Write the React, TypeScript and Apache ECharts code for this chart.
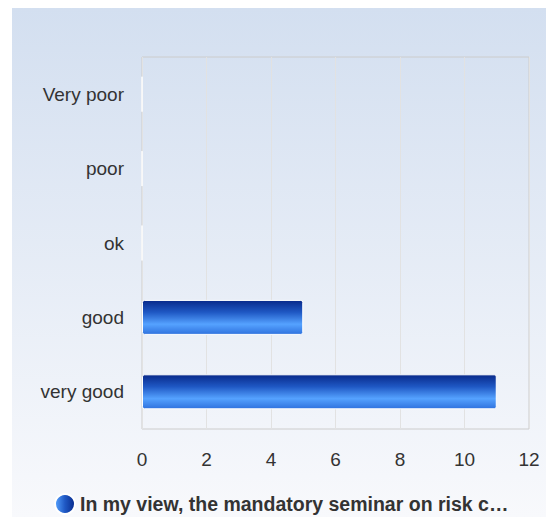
import React, { useEffect, useRef } from "react";
import * as echarts from "echarts";

const categories = ["very good", "good", "ok", "poor", "Very poor"];
const values = [11, 5, 0, 0, 0];
const seriesName = "In my view, the mandatory seminar on risk c…";

export default function App() {
  const ref = useRef<HTMLDivElement>(null);
  useEffect(() => {
    document.body.style.margin = "0";
    const chart = echarts.init(ref.current!, null, { renderer: "svg" });
    const barColor = new echarts.graphic.LinearGradient(0, 0, 0, 1, [
      { offset: 0, color: "#08298a" },
      { offset: 0.35, color: "#1f58c4" },
      { offset: 0.7, color: "#55a2ff" },
      { offset: 1, color: "#2f72de" },
    ]);
    chart.setOption({
      animation: false,
      graphic: [
        {
          type: "rect",
          z: -10,
          silent: true,
          shape: { x: 12, y: 8, width: 534, height: 509 },
          style: {
            fill: new echarts.graphic.LinearGradient(0, 0, 0, 1, [
              { offset: 0, color: "#d3dff0" },
              { offset: 1, color: "#f8f9fc" },
            ]),
          },
        },
      ],
      grid: { left: 142, right: 17, top: 57, bottom: 88, show: true, borderColor: "#cccccc", borderWidth: 1, backgroundColor: "transparent" },
      xAxis: {
        type: "value",
        min: 0,
        max: 12,
        interval: 2,
        axisLine: { show: false },
        axisTick: { show: false },
        splitLine: { show: true, lineStyle: { color: "#e2e2e2", width: 1 } },
        axisLabel: { color: "#333333", fontSize: 19, fontFamily: "Liberation Sans, Arial, sans-serif", margin: 21 },
      },
      yAxis: {
        type: "category",
        data: categories,
        axisLine: { show: false },
        axisTick: { show: false },
        splitLine: { show: false },
        axisLabel: { color: "#333333", fontSize: 19, fontFamily: "Liberation Sans, Arial, sans-serif", margin: 18 },
      },
      legend: {
        bottom: -3,
        left: 49,
        itemWidth: 20,
        itemHeight: 20,
        icon: "circle",
        itemGap: 6,
        textStyle: { color: "#333333", fontSize: 19.5, fontWeight: "bold", fontFamily: "Liberation Sans, Arial, sans-serif" },
        data: [
          {
            name: seriesName,
            itemStyle: {
              color: new echarts.graphic.LinearGradient(0, 0, 1, 0, [
                { offset: 0, color: "#55a2ff" },
                { offset: 0.5, color: "#1f58c4" },
                { offset: 1, color: "#08298a" },
              ]),
            },
          },
        ],
      },
      series: [
        {
          name: seriesName,
          type: "bar",
          data: values,
          barWidth: "47%",
          itemStyle: { color: barColor, borderColor: "#ffffff", borderWidth: 1, borderRadius: 2 },
        },
      ],
    });
    return () => chart.dispose();
  }, []);
  return <div ref={ref} style={{ width: 546, height: 517 }} />;
}
